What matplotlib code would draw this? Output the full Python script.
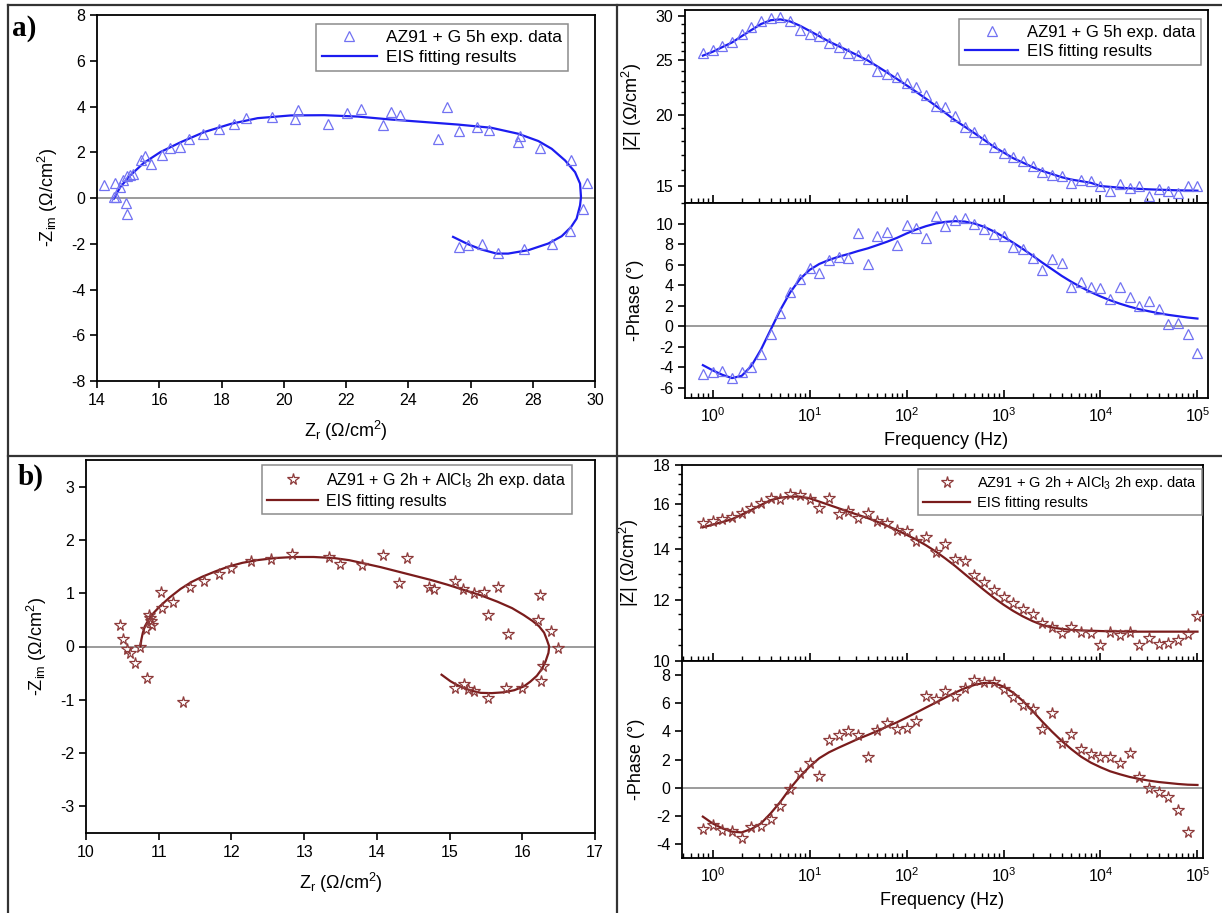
import matplotlib
matplotlib.use("Agg")
import matplotlib.pyplot as plt
from matplotlib.lines import Line2D
from matplotlib.ticker import FixedLocator, FixedFormatter, NullFormatter, LogLocator

plt.rcParams['font.family'] = ['Liberation Sans', 'DejaVu Sans']
plt.rcParams['mathtext.fontset'] = 'custom'
plt.rcParams['mathtext.rm'] = 'Liberation Sans'
plt.rcParams['mathtext.it'] = 'Liberation Sans:italic'
plt.rcParams['mathtext.default'] = 'regular'
plt.rcParams['axes.unicode_minus'] = False

# ---------------- data ----------------
freq = [0.794, 1.0, 1.259, 1.585, 1.995, 2.512, 3.162, 3.981, 5.012, 6.310, 7.943,
        10.0, 12.59, 15.85, 19.95, 25.12, 31.62, 39.81, 50.12, 63.10, 79.43,
        100.0, 125.9, 158.5, 199.5, 251.2, 316.2, 398.1, 501.2, 631.0, 794.3,
        1000, 1259, 1585, 1995, 2512, 3162, 3981, 5012, 6310, 7943,
        10000, 12589, 15849, 19953, 25119, 31623, 39811, 50119, 63096, 79433, 100000]

# a) AZ91 + G 5h
a_nyq_zr = [14.24, 14.59, 14.54, 14.62, 14.73, 14.84, 14.95, 15.05, 15.16, 14.93, 14.95,
            15.40, 15.53, 15.72, 16.09, 16.36, 16.66, 16.95, 17.42, 17.92, 18.40,
            18.78, 19.62, 20.37, 20.47, 21.43, 22.02, 22.49, 23.19, 23.45, 23.74,
            24.96, 25.26, 25.62, 26.22, 26.60, 27.60, 27.53, 28.23, 29.22, 29.74,
            29.63, 29.20, 28.61, 27.73, 26.87, 26.37, 25.92, 25.62]
a_nyq_zim = [0.58, 0.65, 0.04, 0.04, 0.48, 0.80, 0.95, 0.99, 1.03, -0.22, -0.68,
             1.67, 1.82, 1.50, 1.90, 2.18, 2.25, 2.59, 2.78, 3.03, 3.24,
             3.50, 3.56, 3.46, 3.85, 3.24, 3.71, 3.90, 3.20, 3.75, 3.65,
             2.59, 4.00, 2.92, 3.10, 2.98, 2.69, 2.44, 2.20, 1.67, 0.67,
             -0.47, -1.44, -2.02, -2.21, -2.39, -2.02, -2.07, -2.14]
a_nyq_fit_zr = [14.54, 14.75, 15.07, 15.50, 16.04, 16.69, 17.44, 18.30, 19.16, 20.23,
                21.30, 22.38, 23.45, 24.53, 25.60, 26.67, 27.53, 28.18, 28.61, 29.04,
                29.36, 29.52, 29.55, 29.52, 29.41, 29.23, 28.93, 28.50, 27.86, 27.21,
                26.84, 26.35, 25.92, 25.44]
a_nyq_fit_zim = [-0.03, 0.48, 0.99, 1.53, 2.01, 2.44, 2.88, 3.24, 3.49, 3.61,
                 3.62, 3.56, 3.43, 3.32, 3.21, 3.07, 2.81, 2.49, 2.15, 1.64,
                 1.13, 0.63, 0.04, -0.32, -0.90, -1.27, -1.67, -1.99, -2.28, -2.43,
                 -2.43, -2.25, -2.02, -1.70]
a_absz = [25.75, 26.1, 26.5, 26.95, 27.85, 28.7, 29.3, 29.7, 29.8, 29.4, 28.3,
          27.8, 27.6, 26.8, 26.4, 25.8, 25.6, 25.2, 24.0, 23.7, 23.4,
          22.8, 22.4, 21.7, 20.8, 20.7, 19.96, 19.1, 18.7, 18.15, 17.6,
          17.15, 16.87, 16.6, 16.3, 15.9, 15.7, 15.65, 15.2, 15.4, 15.3,
          15.0, 14.68, 15.15, 14.9, 15.0, 14.4, 14.85, 14.7, 14.6, 15.0, 15.0]
a_absz_fit = [25.5, 25.9, 26.4, 26.9, 27.6, 28.3, 29.0, 29.45, 29.55, 29.3, 28.8,
              28.2, 27.6, 27.0, 26.5, 26.0, 25.5, 25.0, 24.4, 23.8, 23.2,
              22.6, 22.0, 21.4, 20.8, 20.2, 19.6, 19.1, 18.6, 18.1, 17.6,
              17.2, 16.8, 16.5, 16.2, 15.95, 15.75, 15.55, 15.4, 15.3, 15.2,
              15.0, 14.95, 14.9, 14.86, 14.83, 14.8, 14.78, 14.76, 14.74, 14.73, 14.72]
a_phase = [-4.68, -4.5, -4.35, -5.06, -4.5, -3.97, -2.74, -0.8, 1.29, 3.29, 4.58,
           5.65, 5.16, 6.45, 6.77, 6.61, 9.1, 6.03, 8.8, 9.13, 7.9,
           9.84, 9.6, 8.6, 10.7, 9.74, 10.3, 10.58, 9.94, 9.45, 8.97,
           8.77, 7.74, 7.55, 6.68, 5.48, 6.55, 6.19, 3.8, 4.26, 3.8,
           3.7, 2.68, 3.8, 2.84, 2.0, 2.42, 1.71, 0.19, 0.26, -0.8, -2.58]
a_phase_fit = [-3.8, -4.3, -4.74, -5.06, -4.84, -3.87, -2.26, -0.32, 1.61, 3.29, 4.58,
               5.48, 6.06, 6.45, 6.77, 7.03, 7.32, 7.58, 7.9, 8.23, 8.6,
               9.03, 9.42, 9.74, 10.0, 10.16, 10.23, 10.19, 10.0, 9.68, 9.23,
               8.71, 8.13, 7.52, 6.87, 6.19, 5.55, 4.9, 4.32, 3.8, 3.32,
               2.9, 2.52, 2.19, 1.9, 1.65, 1.45, 1.26, 1.1, 0.97, 0.84, 0.74]

# b) AZ91 + G 2h + AlCl3 2h
b_nyq_zr = [10.47, 10.51, 10.56, 10.60, 10.67, 10.74, 10.82, 10.84, 10.86, 10.89, 10.91,
            10.88, 11.04, 11.03, 11.20, 11.34, 11.43, 11.62, 11.83, 12.00, 12.27,
            12.55, 12.83, 13.34, 13.49, 13.80, 14.08, 14.30, 14.42, 14.72, 14.78,
            15.07, 15.18, 15.33, 15.47, 15.53, 15.67, 15.81, 16.22, 16.25, 16.39,
            16.49, 16.28, 16.26, 15.99, 15.78, 15.53, 15.34, 15.26, 15.20, 15.08]
b_nyq_zim = [0.41, 0.14, -0.05, -0.125, -0.31, -0.01, 0.33, -0.59, 0.59, 0.47, 0.41,
             0.53, 0.72, 1.02, 0.83, -1.05, 1.11, 1.22, 1.36, 1.48, 1.61,
             1.64, 1.73, 1.68, 1.55, 1.53, 1.71, 1.19, 1.67, 1.11, 1.08,
             1.22, 1.08, 1.00, 1.02, 0.59, 1.11, 0.23, 0.50, 0.97, 0.30,
             -0.02, -0.36, -0.64, -0.77, -0.78, -0.97, -0.83, -0.80, -0.70, -0.77]
b_nyq_fit_zr = [10.75, 10.76, 10.78, 10.81, 10.86, 10.93, 11.02, 11.15, 11.30, 11.45,
                11.60, 11.78, 11.96, 12.15, 12.35, 12.60, 12.86, 13.13, 13.41, 13.62,
                13.82, 14.05, 14.28, 14.51, 14.74, 14.97, 15.20, 15.43, 15.66, 15.86,
                16.02, 16.14, 16.23, 16.30, 16.34, 16.37, 16.36, 16.32, 16.27, 16.20,
                16.11, 16.02, 15.89, 15.74, 15.58, 15.43, 15.30, 15.20, 15.10, 15.01,
                14.95, 14.89]
b_nyq_fit_zim = [0.00, 0.12, 0.25, 0.38, 0.50, 0.63, 0.76, 0.92, 1.08, 1.21,
                 1.31, 1.41, 1.50, 1.57, 1.62, 1.66, 1.68, 1.68, 1.66, 1.62,
                 1.56, 1.49, 1.41, 1.33, 1.25, 1.16, 1.06, 0.96, 0.84, 0.72,
                 0.59, 0.48, 0.38, 0.26, 0.12, 0.00, -0.12, -0.28, -0.42, -0.55,
                 -0.66, -0.75, -0.82, -0.86, -0.875, -0.87, -0.83, -0.78, -0.72, -0.65,
                 -0.59, -0.53]
b_absz = [15.11, 15.22, 15.29, 15.38, 15.57, 15.81, 16.05, 16.29, 16.26, 16.52, 16.45,
          16.24, 15.81, 16.32, 15.53, 15.7, 15.37, 15.57, 15.22, 15.14, 14.8,
          14.76, 14.34, 14.51, 13.88, 14.2, 13.58, 13.51, 12.95, 12.66, 12.38,
          12.11, 11.91, 11.7, 11.5, 11.22, 11.08, 10.88, 11.08, 10.91, 10.88,
          10.48, 10.91, 10.8, 10.9, 10.5, 10.73, 10.52, 10.57, 10.65, 10.85, 11.44]
b_absz_fit = [14.93, 15.05, 15.17, 15.3, 15.51, 15.73, 15.97, 16.2, 16.32, 16.37, 16.37,
              16.29, 16.13, 15.97, 15.81, 15.65, 15.5, 15.35, 15.18, 15.0, 14.81,
              14.6, 14.39, 14.15, 13.89, 13.6, 13.3, 12.98, 12.67, 12.37, 12.09,
              11.84, 11.62, 11.43, 11.27, 11.14, 11.06, 11.01, 10.98, 10.96, 10.95,
              10.94, 10.93, 10.93, 10.92, 10.92, 10.92, 10.92, 10.92, 10.92, 10.92, 10.92]
b_phase = [-2.94, -2.65, -3.0, -3.08, -3.55, -2.82, -2.73, -2.23, -1.28, -0.09, 1.02,
           1.73, 0.83, 3.39, 3.74, 4.03, 3.74, 2.2, 4.08, 4.57, 4.17,
           4.27, 4.74, 6.54, 6.3, 6.87, 6.54, 7.1, 7.63, 7.49, 7.49,
           6.99, 6.47, 5.88, 5.59, 4.17, 5.28, 3.15, 3.79, 2.75, 2.39,
           2.2, 2.16, 1.73, 2.49, 0.73, -0.05, -0.28, -0.64, -1.61, -3.18]
b_phase_fit = [-2.06, -2.54, -2.89, -3.13, -3.18, -2.94, -2.54, -1.82, -1.0, -0.05, 0.78,
               1.49, 2.09, 2.51, 2.84, 3.15, 3.46, 3.74, 4.03, 4.34, 4.64,
               4.98, 5.33, 5.69, 6.04, 6.4, 6.75, 7.06, 7.3, 7.44, 7.44,
               7.18, 6.75, 6.16, 5.45, 4.69, 3.98, 3.32, 2.73, 2.2, 1.78,
               1.45, 1.16, 0.95, 0.76, 0.62, 0.5, 0.4, 0.33, 0.26, 0.21, 0.19]

label_a = "AZ91 + G 5h exp. data"
label_b = "AZ91 + G 2h + AlCl$_3$ 2h exp. data"
label_fit = "EIS fitting results"

# ---------------- style ----------------
W, H = 1222, 913
fig = plt.figure(figsize=(W / 100, H / 100), dpi=100)

A_LINE = '#1c1cf0'
A_MARK = '#7272f2'
B_LINE = '#7a1c1c'
B_MARK = '#8e3b3b'
ZERO = '#8a8a8a'


def add_ax(x0, y0, x1, y1):
    return fig.add_axes([x0 / W, 1 - y1 / H, (x1 - x0) / W, (y1 - y0) / H])


def fig_line(x0, y0, x1, y1, lw=1.6, color='#333333'):
    fig.add_artist(Line2D([x0 / W, x1 / W], [1 - y0 / H, 1 - y1 / H],
                          transform=fig.transFigure, lw=lw, color=color))


def style_spines(ax):
    for s in ax.spines.values():
        s.set_linewidth(1.3)
        s.set_color('black')


def legend(ax, handles, x_right, y_top, fs):
    lg = ax.legend(handles=handles, loc='upper right',
                   bbox_to_anchor=(x_right / W, 1 - y_top / H),
                   bbox_transform=fig.transFigure, fontsize=fs,
                   frameon=True, fancybox=False, framealpha=1,
                   edgecolor='#8c8c8c', borderpad=0.35, labelspacing=0.25,
                   handlelength=3.2, handletextpad=0.5, borderaxespad=0)
    lg.get_frame().set_linewidth(1.1)
    return lg


def nyquist(ax, zr, zim, fzr, fzim, lc, mc, marker, ms, xlim, ylim, ticks_x, ticks_y,
            lab, lx, ly, lfs):
    ax.axhline(0, color=ZERO, lw=1.2, zorder=1)
    ax.plot(fzr, fzim, color=lc, lw=1.6, zorder=3)
    ax.plot(zr, zim, linestyle='none', marker=marker, ms=ms, mfc='none', mec=mc,
            mew=0.9, zorder=4)
    ax.set_xlim(*xlim)
    ax.set_ylim(*ylim)
    ax.set_xticks(ticks_x)
    ax.set_yticks(ticks_y)
    ax.tick_params(direction='out', length=5, width=1.2, labelsize=11.5)
    ax.set_xlabel("Z$_r$ ($\\Omega$/cm$^2$)", fontsize=13, labelpad=8)
    ax.set_ylabel("-Z$_{im}$ ($\\Omega$/cm$^2$)", fontsize=13, labelpad=8)
    style_spines(ax)
    h = [Line2D([], [], linestyle='none', marker=marker, ms=ms, mfc='none', mec=mc, mew=0.9,
                label=lab),
         Line2D([], [], color=lc, lw=1.6, label=label_fit)]
    legend(ax, h, lx, ly, lfs)


def bode(axz, axp, zdata, zfit, pdata, pfit, lc, mc, marker, ms, xlim,
         zlim, zticks, zminor, plim, pticks, lab, lx, ly, lfs):
    for ax in (axz, axp):
        ax.set_xscale('log')
        ax.set_xlim(*xlim)
        ax.xaxis.set_major_locator(LogLocator(base=10, numticks=10))
        ax.xaxis.set_minor_locator(LogLocator(base=10, subs=range(2, 10), numticks=20))
        ax.tick_params(axis='x', which='major', direction='in', length=6, width=1.2,
                       labelsize=11.5, pad=6)
        ax.tick_params(axis='x', which='minor', direction='in', length=3.5, width=1.0)
        ax.tick_params(axis='y', which='major', direction='out', length=5, width=1.2,
                       labelsize=11.5)
        ax.tick_params(axis='y', which='minor', direction='out', length=3, width=1.0)
        style_spines(ax)
    axz.set_yscale('log')
    axz.plot(freq[:len(zfit)], zfit, color=lc, lw=1.6, zorder=3)
    axz.plot(freq[:len(zdata)], zdata, linestyle='none', marker=marker, ms=ms, mfc='none',
             mec=mc, mew=0.9, zorder=4)
    axz.set_ylim(*zlim)
    axz.yaxis.set_major_locator(FixedLocator(zticks))
    axz.yaxis.set_major_formatter(FixedFormatter([f"{t:g}" for t in zticks]))
    axz.yaxis.set_minor_locator(FixedLocator(zminor))
    axz.yaxis.set_minor_formatter(NullFormatter())
    axz.tick_params(axis='x', which='both', labelbottom=False)
    axz.set_ylabel("|Z| ($\\Omega$/cm$^2$)", fontsize=13, labelpad=8)

    axp.axhline(0, color=ZERO, lw=1.2, zorder=1)
    axp.plot(freq[:len(pfit)], pfit, color=lc, lw=1.6, zorder=3)
    axp.plot(freq[:len(pdata)], pdata, linestyle='none', marker=marker, ms=ms, mfc='none',
             mec=mc, mew=0.9, zorder=4)
    axp.set_ylim(*plim)
    axp.set_yticks(pticks)
    axp.set_xlabel("Frequency (Hz)", fontsize=13, labelpad=5)
    axp.set_ylabel("-Phase (°)", fontsize=13, labelpad=8)
    h = [Line2D([], [], linestyle='none', marker=marker, ms=ms, mfc='none', mec=mc, mew=0.9,
                label=lab),
         Line2D([], [], color=lc, lw=1.6, label=label_fit)]
    legend(axz, h, lx, ly, lfs)


# ---------------- panel a ----------------
ax1 = add_ax(97, 15, 595, 381)
nyquist(ax1, a_nyq_zr, a_nyq_zim, a_nyq_fit_zr, a_nyq_fit_zim, A_LINE, A_MARK, '^', 7.5,
        (14, 30), (-8, 8), range(14, 31, 2), range(-8, 9, 2), label_a, 568, 24, 12.5)

ax2 = add_ax(685, 10, 1208, 203)
ax3 = add_ax(685, 203, 1208, 398)
bode(ax2, ax3, a_absz, a_absz_fit, a_phase, a_phase_fit, A_LINE, A_MARK, '^', 7.5,
     (0.519, 1.285e5), (14.0, 30.7), [15, 20, 25, 30], list(range(14, 31)),
     (-7, 12), range(-6, 11, 2), label_a, 1201, 19, 12)

# ---------------- panel b ----------------
ax4 = add_ax(86, 460, 595, 833)
nyquist(ax4, b_nyq_zr, b_nyq_zim, b_nyq_fit_zr, b_nyq_fit_zim, B_LINE, B_MARK, '*', 8.5,
        (10, 17), (-3.5, 3.5), range(10, 18), range(-3, 4), label_b, 572, 465, 11.5)

ax5 = add_ax(682, 465, 1203, 661)
ax6 = add_ax(682, 661, 1203, 858)
bode(ax5, ax6, b_absz, b_absz_fit, b_phase, b_phase_fit, B_LINE, B_MARK, '*', 8.5,
     (0.484, 1.14e5), (10, 18), [10, 12, 14, 16, 18],
     [10 + 0.5 * i for i in range(17)],
     (-5, 9), range(-4, 9, 2), label_b, 1202, 469, 10.5)

# ---------------- frame lines & panel labels ----------------
fig_line(8, 5, W, 5)
fig_line(8, 5, 8, H)
fig_line(617, 5, 617, H)
fig_line(8, 456, W, 456)
fig.text(12 / W, 1 - 28 / H, "a)", fontsize=21, fontweight='bold',
         family='Liberation Serif', va='center', ha='left')
fig.text(18 / W, 1 - 477 / H, "b)", fontsize=21, fontweight='bold',
         family='Liberation Serif', va='center', ha='left')

fig.savefig("out.png", dpi=100)
